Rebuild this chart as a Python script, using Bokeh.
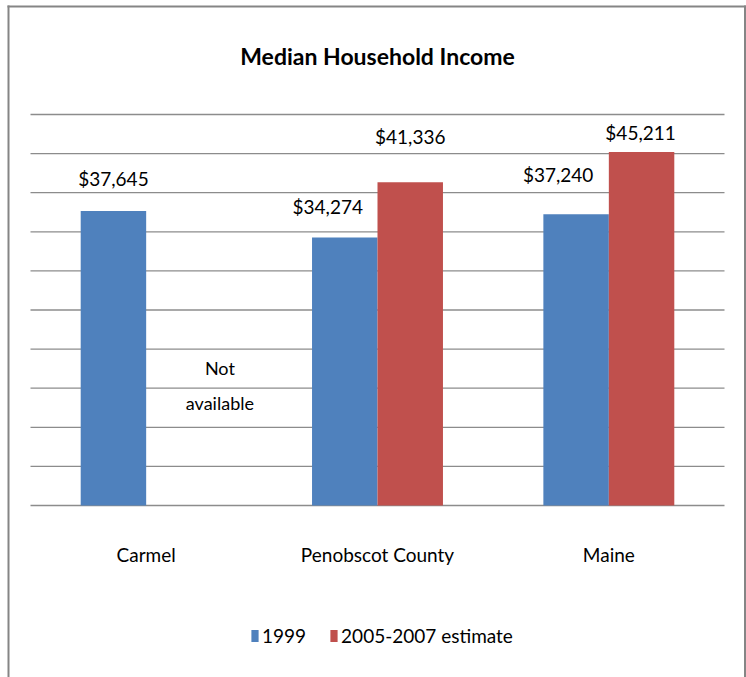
import math
from bokeh.plotting import figure
from bokeh.models import ColumnDataSource, Range1d, Legend, LegendItem
from bokeh.core.properties import value
from bokeh.embed import file_html
from bokeh.resources import INLINE

# ---- data -------------------------------------------------------------
categories = ["Carmel", "Penobscot County", "Maine"]
series_names = ["1999", "2005-2007 estimate"]
income_1999 = [37645, 34274, 37240]
income_2005_2007 = [float("nan"), 41336, 45211]   # Carmel: not available
not_available_text = "Not\navailable"
chart_title = "Median Household Income"
y_ticks = [0, 5000, 10000, 15000, 20000, 25000, 30000, 35000, 40000, 45000, 50000]

# ---- styles / layout --------------------------------------------------
FONT = "Lato"
BLUE = "#4f81bd"
RED = "#c0504d"
GRID = "#8c8c8c"
BORDER = "#858585"
BAR_W = 0.283
OFF = BAR_W / 2

W, H = 746, 677
PLOT_L, PLOT_R, PLOT_T, PLOT_B = 30, 724, 114, 505   # plot area (px)
BORDER_LEFT_PX, BORDER_RIGHT_PX, BORDER_TOP_PX = 8, 744.5, 6
Y_MAX = y_ticks[-1]

# hand placement of the data labels (pixels)
dx_1999 = [0, -17, -18]
up_1999 = [33, 31, 40]
dx_est = [0, 0, -1]
up_est = [0, 46, 19]


def fmt(v):
    return "" if math.isnan(v) else f"${v:,.0f}"


n = len(categories)
xc = [i + 0.5 for i in range(n)]
src = ColumnDataSource(dict(
    cat=categories, xc=xc,
    x1=[x - OFF for x in xc], x2=[x + OFF for x in xc],
    y1=income_1999, y2=income_2005_2007,
    t1=[fmt(v) for v in income_1999], t2=[fmt(v) for v in income_2005_2007],
    dx1=dx_1999, dy1=[-u for u in up_1999], dx2=dx_est, dy2=[-u for u in up_est],
    zero=[0] * n))

# the frame fills the whole canvas; ranges put the plot area at PLOT_*
px_x = (PLOT_R - PLOT_L) / n
px_y = (PLOT_B - PLOT_T) / Y_MAX
x_range = Range1d(-PLOT_L / px_x, n + (W - PLOT_R) / px_x)
y_range = Range1d(-(H - PLOT_B) / px_y, Y_MAX + PLOT_T / px_y)

p = figure(width=W, height=H, x_range=x_range, y_range=y_range, title=None,
           output_backend="svg", toolbar_location=None,
           min_border_left=0, min_border_right=0, min_border_top=0, min_border_bottom=0,
           background_fill_color="white", border_fill_color="white",
           outline_line_color=None)
p.xaxis.visible = False
p.yaxis.visible = False
p.xgrid.visible = False
p.ygrid.visible = False

# outer chart border (left, right, top) – open at the bottom
bx_l = (BORDER_LEFT_PX - PLOT_L) / px_x
bx_r = (BORDER_RIGHT_PX - PLOT_L) / px_x
by_t = (PLOT_B - BORDER_TOP_PX) / px_y
by_b = y_range.start
p.segment(x0=[bx_l, bx_r, bx_l], x1=[bx_l, bx_r, bx_r],
          y0=[by_b, by_b, by_t], y1=[by_t, by_t, by_t],
          line_color=BORDER, line_width=2, line_cap="square")

# horizontal grid lines across the plot area
p.segment(x0=[0] * len(y_ticks), x1=[n] * len(y_ticks), y0=y_ticks, y1=y_ticks,
          line_color=GRID, line_width=1.3)

r1 = p.vbar(x="x1", top="y1", width=BAR_W, source=src, fill_color=BLUE, line_color=None)
r2 = p.vbar(x="x2", top="y2", width=BAR_W, source=src, fill_color=RED, line_color=None)

# data labels
p.text(x="x1", y="y1", text="t1", x_offset="dx1", y_offset="dy1", source=src,
       text_align="center", text_baseline="middle", text_font=value(FONT),
       text_font_size="19px", text_color="black")
p.text(x="x2", y="y2", text="t2", x_offset="dx2", y_offset="dy2", source=src,
       text_align="center", text_baseline="middle", text_font=value(FONT),
       text_font_size="19px", text_color="black")

# category labels
p.text(x="xc", y="zero", text="cat", y_offset=49, source=src,
       text_align="center", text_baseline="middle", text_font=value(FONT),
       text_font_size="19px", text_color="black")

# "Not available" note in Carmel's estimate slot
p.text(x=[xc[0] + OFF], y=[0], text=[not_available_text],
       x_offset=41, y_offset=-120, text_align="center", text_baseline="middle",
       text_font=value(FONT), text_font_size="18px", text_line_height=1.55,
       text_color="black")

# title
p.text(x=[n / 2], y=[Y_MAX], text=[chart_title], y_offset=-(PLOT_T - 55),
       text_align="center", text_baseline="middle", text_font=value(FONT),
       text_font_size="23px", text_font_style="bold", text_color="black")

legend = Legend(items=[LegendItem(label=series_names[0], renderers=[r1]),
                       LegendItem(label=series_names[1], renderers=[r2])],
                orientation="horizontal", location=(250, 30),
                border_line_color=None, background_fill_alpha=0,
                glyph_width=9, glyph_height=15, label_standoff=3, spacing=23,
                padding=0, margin=0,
                label_text_font=FONT, label_text_font_size="19px",
                label_text_color="black")
p.add_layout(legend)

open("out.html", "w").write(file_html(p, INLINE))
